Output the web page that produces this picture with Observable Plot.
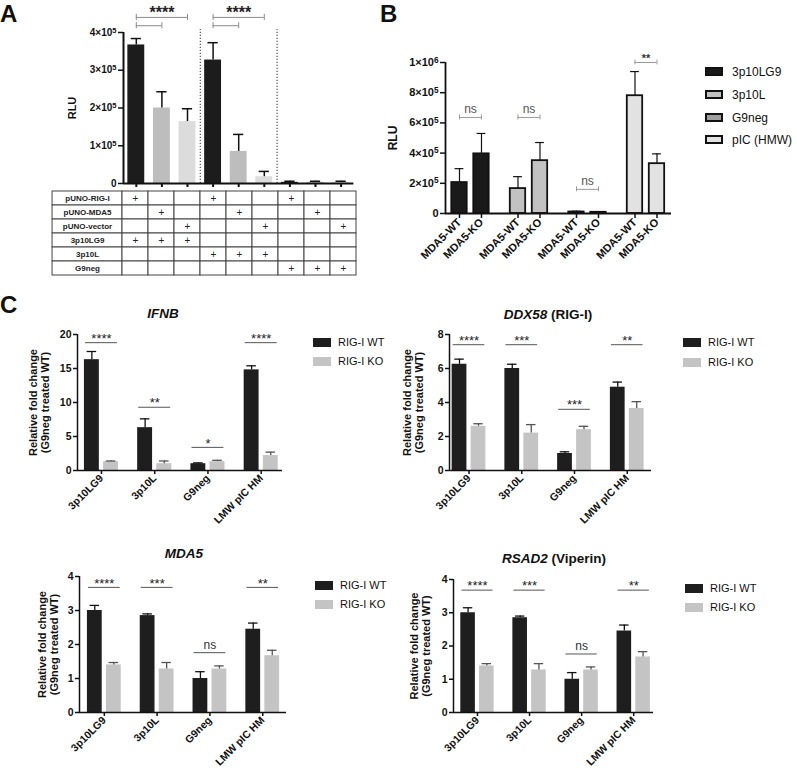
<!DOCTYPE html>
<html>
<head>
<meta charset="utf-8">
<script src="https://cdn.jsdelivr.net/npm/d3@7"></script>
<script src="https://cdn.jsdelivr.net/npm/@observablehq/plot@0.6"></script>
<style>
  html, body { margin: 0; padding: 0; background: #fff; }
  #fig { position: relative; width: 797px; height: 772px; overflow: hidden; background: #fff; }
</style>
</head>
<body>
<div id="fig"></div>
<script>
// ================= DATA =================
// Panel A
const aPlasmid = ["pUNO-RIG-I","pUNO-MDA5","pUNO-vector","pUNO-RIG-I","pUNO-MDA5","pUNO-vector","pUNO-RIG-I","pUNO-MDA5","pUNO-vector"];
const aLigand  = ["3p10LG9","3p10LG9","3p10LG9","3p10L","3p10L","3p10L","G9neg","G9neg","G9neg"];
const aValue   = [367000, 200000, 164000, 327000, 85000, 18000, 3000, 3000, 3000];
const aErrTop  = [384000, 243000, 198000, 373000, 130000, 32000, 6000, 6000, 6000];
const aYTicks  = [0, 100000, 200000, 300000, 400000];
const aTableRows = ["pUNO-RIG-I","pUNO-MDA5","pUNO-vector","3p10LG9","3p10L","G9neg"];
const aSigFrom  = [0, 0, 3, 3];
const aSigTo    = [2, 1, 5, 4];
const aSigY     = [440000, 418000, 440000, 418000];
const aSigLabel = ["****", "", "****", ""];

// Panel B
const bTreatments = ["3p10LG9","3p10L","G9neg","pIC (HMW)"];
const bCells = ["MDA5-WT","MDA5-KO"];
const bWT    = [205000, 165000, 10000, 780000];
const bWTErr = [297000, 244000, 15000, 940000];
const bKO    = [395000, 350000, 8000, 330000];
const bKOErr = [530000, 470000, 12000, 395000];
const bSig   = ["ns","ns","ns","**"];
const bSigY  = [636000, 636000, 160000, 1000000];
const bYTicks = [0, 200000, 400000, 600000, 800000, 1000000];

// Panel C
const cGroups = ["3p10LG9","3p10L","G9neg","LMW pIC HM"];
const cSeries = ["RIG-I WT","RIG-I KO"];

const ifnbWT = [16.3, 6.3, 1.0, 14.8];
const ifnbWTErr = [17.5, 7.6, 1.12, 15.4];
const ifnbKO = [1.3, 1.0, 1.3, 2.2];
const ifnbKOErr = [1.4, 1.4, 1.5, 2.7];
const ifnbSig = ["****","**","*","****"];
const ifnbSigY = [18.8, 9.3, 3.4, 18.8];
const ifnbTicks = [0, 5, 10, 15, 20];

const ddxWT = [6.25, 6.0, 1.0, 4.9];
const ddxWTErr = [6.55, 6.25, 1.1, 5.2];
const ddxKO = [2.6, 2.2, 2.4, 3.65];
const ddxKOErr = [2.75, 2.7, 2.6, 4.05];
const ddxSig = ["****","***","***","**"];
const ddxSigY = [7.4, 7.4, 3.6, 7.4];
const ddxTicks = [0, 2, 4, 6, 8];

const mda5WT = [3.0, 2.85, 1.0, 2.45];
const mda5WTErr = [3.15, 2.9, 1.2, 2.63];
const mda5KO = [1.4, 1.28, 1.28, 1.67];
const mda5KOErr = [1.47, 1.47, 1.37, 1.83];
const mda5Sig = ["****","***","ns","**"];
const mda5SigY = [3.68, 3.68, 1.76, 3.68];
const mda5Ticks = [0, 1, 2, 3, 4];

const rsadWT = [3.0, 2.85, 1.0, 2.45];
const rsadWTErr = [3.15, 2.9, 1.2, 2.63];
const rsadKO = [1.4, 1.28, 1.28, 1.67];
const rsadKOErr = [1.47, 1.47, 1.37, 1.83];
const rsadSig = ["****","***","ns","**"];
const rsadSigY = [3.68, 3.68, 1.76, 3.68];
const rsadTicks = [0, 1, 2, 3, 4];

// ================= HELPERS =================
const FONT = '"Liberation Sans", Arial, Helvetica, sans-serif';
const fig = document.getElementById("fig");
function sci(v) {
  if (v === 0) return "0";
  const e = Math.floor(Math.log10(v) + 1e-9);
  const m = Math.round(v / Math.pow(10, e));
  return m + "×10^" + e;
}
// turn "4×10^5" into real superscript tspans
function fixSuperscripts(svg) {
  svg.querySelectorAll("text").forEach(t => {
    const m = t.textContent.match(/^(.*×10)\^(\d+)$/);
    if (!m) return;
    t.textContent = m[1];
    const ts = document.createElementNS("http://www.w3.org/2000/svg", "tspan");
    ts.setAttribute("dy", "-0.42em");
    ts.setAttribute("font-size", "0.75em");
    ts.textContent = m[2];
    t.appendChild(ts);
  });
}
function mount(svg, left, top) {
  svg.style.position = "absolute";
  svg.style.left = left + "px";
  svg.style.top = top + "px";
  fixSuperscripts(svg);
  fig.appendChild(svg);
}
const baseStyle = {fontFamily: FONT, fontSize: "10px", background: "transparent", overflow: "visible", maxWidth: "none", color: "#111"};
function label(html, x, baseline, size, opts = {}) {
  const d = document.createElement("div");
  d.innerHTML = html;
  d.style.cssText = `position:absolute;left:${x}px;top:${baseline - 0.8465 * size}px;font-family:${FONT};font-size:${size}px;font-weight:${opts.weight || "normal"};font-style:${opts.style || "normal"};line-height:1;white-space:nowrap;color:${opts.color || "#111"};` + (opts.center ? "transform:translateX(-50%);" : "");
  fig.appendChild(d);
}
function swatch(x, y, w, h, fill, border) {
  const d = document.createElement("div");
  d.style.cssText = `position:absolute;left:${x}px;top:${y}px;width:${w}px;height:${h}px;background:${fill};box-sizing:border-box;` + (border ? `border:2px solid ${border};` : "");
  fig.appendChild(d);
}
function bracketEnds(list) {
  return list.flatMap(b => [{x: b.x1, y: b.y}, {x: b.x2, y: b.y}]);
}

// ================= PANEL A =================
const aColors = {"pUNO-RIG-I": "#1c1c1c", "pUNO-MDA5": "#bdbdbd", "pUNO-vector": "#dcdcdc"};
const aBars = aValue.map((v, i) => ({pos: i, value: v, err: aErrTop[i], plasmid: aPlasmid[i], ligand: aLigand[i]}));
const aSeparators = aBars.filter((d, i) => i > 0 && aLigand[i] !== aLigand[i - 1]).map(d => d.pos - 0.5);
const aBrackets = aSigFrom.map((f, i) => ({x1: f, x2: aSigTo[i], y: aSigY[i], label: aSigLabel[i]}));
const A_HW = 0.33;

const aPlot = Plot.plot({
  width: 380, height: 188,
  marginLeft: 123, marginRight: 26.6, marginTop: 32, marginBottom: 5,
  x: {domain: [-0.5, 8.5], axis: null},
  y: {domain: [0, 400000], axis: null},
  color: {domain: Object.keys(aColors), range: Object.values(aColors)},
  style: baseStyle,
  marks: [
    Plot.ruleX(aSeparators, {x: d => d, y1: 0, y2: 408000, stroke: "#555", strokeWidth: 1.2, strokeDasharray: "1.2,1.8"}),
    Plot.rectY(aBars, {x1: d => d.pos - A_HW, x2: d => d.pos + A_HW, y1: 0, y2: "value", fill: "plasmid"}),
    Plot.ruleX(aBars, {x: "pos", y1: "value", y2: "err", stroke: "#111", strokeWidth: 1.5}),
    Plot.ruleY(aBars, {y: "err", x1: d => d.pos - 0.2, x2: d => d.pos + 0.2, stroke: "#111", strokeWidth: 1.5}),
    Plot.ruleY([0], {stroke: "#111", strokeWidth: 2}),
    Plot.ruleX([-0.5], {y1: 0, y2: 400000, stroke: "#111", strokeWidth: 2}),
    Plot.axisY({ticks: aYTicks, tickFormat: sci, tickSize: 5, tickPadding: 2, fontWeight: "bold", fontSize: 10, strokeWidth: 1.5, label: null}),
    Plot.axisX({ticks: aBars.map(d => d.pos), tickFormat: () => "", tickSize: 4, strokeWidth: 2, label: null}),
    Plot.ruleY(aBrackets, {y: "y", x1: "x1", x2: "x2", stroke: "#8a8a8a", strokeWidth: 1}),
    Plot.ruleX(bracketEnds(aBrackets), {x: "x", y1: d => d.y - 8000, y2: d => d.y + 8000, stroke: "#8a8a8a", strokeWidth: 1}),
    Plot.text(aBrackets.filter(b => b.label), {x: d => (d.x1 + d.x2) / 2, y: "y", text: "label", dy: -5, fontWeight: "bold", fontSize: 16, fill: "#222"}),
    Plot.text(["RLU"], {frameAnchor: "left", textAnchor: "middle", dx: -51, rotate: -90, fontWeight: "bold", fontSize: 11})
  ]
});
mount(aPlot, 0, 0);

// Panel A table
const LABEL_COL_UNITS = 2.69;
const tableCells = aTableRows.flatMap(row => [
  {row, x1: -0.5 - LABEL_COL_UNITS, x2: -0.5},
  ...aBars.map(b => ({row, x1: b.pos - 0.5, x2: b.pos + 0.5}))
]);
const plusCells = aTableRows.flatMap(row => aBars.filter(b => b.plasmid === row || b.ligand === row).map(b => ({row, col: b.pos})));
const aTable = Plot.plot({
  width: 380, height: 95,
  marginLeft: 122, marginRight: 24, marginTop: 4, marginBottom: 3,
  x: {domain: [-0.5, 8.5], axis: null},
  y: {type: "band", domain: aTableRows, padding: 0, axis: null},
  style: baseStyle,
  marks: [
    Plot.barX(tableCells, {x1: "x1", x2: "x2", y: "row", fill: "white", stroke: "#444", strokeWidth: 1}),
    Plot.text(plusCells, {x: "col", y: "row", text: () => "+", fontSize: 10, fill: "#222"}),
    Plot.text(aTableRows, {x: () => -0.5 - LABEL_COL_UNITS / 2, y: d => d, text: d => d, fontSize: 8, fontWeight: "bold", fill: "#222"})
  ]
});
mount(aTable, 0, 185);

// ================= PANEL B =================
const bColors = {"3p10LG9": "#1a1a1a", "3p10L": "#c2c2c2", "G9neg": "#9e9e9e", "pIC (HMW)": "#e2e2e2"};
const B_GROUP_STEP = 2.66;
const bBars = bTreatments.flatMap((t, g) => [
  {pos: g * B_GROUP_STEP, treat: t, cell: bCells[0], value: bWT[g], err: bWTErr[g]},
  {pos: g * B_GROUP_STEP + 1, treat: t, cell: bCells[1], value: bKO[g], err: bKOErr[g]}
]);
const bBrackets = bTreatments.map((t, g) => ({x1: g * B_GROUP_STEP, x2: g * B_GROUP_STEP + 1, y: bSigY[g], label: bSig[g]}));
const B_HW = 0.35;
const bPlot = Plot.plot({
  width: 300, height: 235,
  marginLeft: 65, marginRight: 9, marginTop: 22, marginBottom: 62,
  x: {domain: [-0.636, 9.64], axis: null},
  y: {domain: [0, 1000000], axis: null},
  color: {domain: Object.keys(bColors), range: Object.values(bColors)},
  style: baseStyle,
  marks: [
    Plot.ruleX(bBars, {x: "pos", y1: "value", y2: "err", stroke: "#111", strokeWidth: 1.2}),
    Plot.ruleY(bBars, {y: "err", x1: d => d.pos - 0.2, x2: d => d.pos + 0.2, stroke: "#111", strokeWidth: 1.2}),
    Plot.rectY(bBars, {x1: d => d.pos - B_HW, x2: d => d.pos + B_HW, y1: 0, y2: "value", fill: "treat", stroke: "#111", strokeWidth: 1.8}),
    Plot.ruleY([0], {stroke: "#111", strokeWidth: 1.8}),
    Plot.ruleX([-0.636], {y1: 0, y2: 1000000, stroke: "#111", strokeWidth: 1.8}),
    Plot.axisY({ticks: bYTicks, tickFormat: sci, tickSize: 5, tickPadding: 2, fontWeight: "bold", fontSize: 11, strokeWidth: 1.5, label: null}),
    Plot.axisX({ticks: bBars.map(d => d.pos), tickFormat: p => bBars.find(d => d.pos === p).cell, tickRotate: -45, tickSize: 5, tickPadding: 2, fontWeight: "bold", fontSize: 11, strokeWidth: 1.5, label: null}),
    Plot.ruleY(bBrackets, {y: "y", x1: "x1", x2: "x2", stroke: "#999", strokeWidth: 1}),
    Plot.ruleX(bracketEnds(bBrackets), {x: "x", y1: d => d.y - 16000, y2: d => d.y + 16000, stroke: "#999", strokeWidth: 1}),
    Plot.text(bBrackets.filter(b => b.label === "ns"), {x: d => (d.x1 + d.x2) / 2, y: "y", text: "label", dy: -8, fontSize: 12, fill: "#555"}),
    Plot.text(bBrackets.filter(b => b.label !== "ns"), {x: d => (d.x1 + d.x2) / 2, y: "y", text: "label", dy: -4, fontSize: 11, fontWeight: "bold", fill: "#333"}),
    Plot.text(["RLU"], {frameAnchor: "left", textAnchor: "middle", dx: -52, rotate: -90, fontWeight: "bold", fontSize: 12})
  ]
});
mount(bPlot, 380, 40);

// B legend
bTreatments.forEach((t, i) => {
  const cy = [71.5, 94.5, 117.5, 139.5][i];
  swatch(705, cy - 4.5, 18, 9, bColors[t], "#111");
  label(t, 732, cy + 4.3, 12);
});

// ================= PANEL C =================
const cColors = {"RIG-I WT": "#1e1e1e", "RIG-I KO": "#c4c4c4"};
const C_OFF = 0.18, C_HW = 0.14;
function cPanel(cfg) {
  const bars = cGroups.flatMap((g, i) => [
    {pos: i - C_OFF, series: cSeries[0], value: cfg.wt[i], err: cfg.wtErr[i]},
    {pos: i + C_OFF, series: cSeries[1], value: cfg.ko[i], err: cfg.koErr[i]}
  ]);
  const sig = cGroups.map((g, i) => ({pos: i, y: cfg.sigY[i], label: cfg.sig[i]}));
  const yMax = cfg.ticks[cfg.ticks.length - 1];
  const svgTop = cfg.yTop - 12;
  const width = 397;
  const p = Plot.plot({
    width, height: cfg.yZero + 62 - svgTop,
    marginLeft: cfg.axisX - cfg.left, marginRight: width - (cfg.axisRight - cfg.left),
    marginTop: cfg.yTop - svgTop, marginBottom: 62,
    x: {domain: cfg.domain, axis: null},
    y: {domain: [0, yMax], axis: null},
    color: {domain: cSeries, range: cSeries.map(s => cColors[s])},
    style: baseStyle,
    marks: [
      Plot.rectY(bars, {x1: d => d.pos - C_HW, x2: d => d.pos + C_HW, y1: 0, y2: "value", fill: "series"}),
      Plot.ruleX(bars.filter(d => d.series === cSeries[0]), {x: "pos", y1: "value", y2: "err", stroke: "#111", strokeWidth: 1.3}),
      Plot.ruleY(bars.filter(d => d.series === cSeries[0]), {y: "err", x1: d => d.pos - 0.09, x2: d => d.pos + 0.09, stroke: "#111", strokeWidth: 1.3}),
      Plot.ruleX(bars.filter(d => d.series === cSeries[1]), {x: "pos", y1: "value", y2: "err", stroke: "#555", strokeWidth: 1.3}),
      Plot.ruleY(bars.filter(d => d.series === cSeries[1]), {y: "err", x1: d => d.pos - 0.09, x2: d => d.pos + 0.09, stroke: "#555", strokeWidth: 1.3}),
      Plot.ruleY([0], {stroke: "#111", strokeWidth: 1.5}),
      Plot.ruleX([cfg.domain[0]], {y1: 0, y2: yMax, stroke: "#111", strokeWidth: 1.5}),
      Plot.axisY({ticks: cfg.ticks, tickFormat: d => String(d), tickSize: 4, tickPadding: 2, fontWeight: "bold", fontSize: 10.5, strokeWidth: 1.5, label: null}),
      Plot.axisX({ticks: cGroups.map((g, i) => i), tickFormat: i => cGroups[i], tickRotate: -45, tickSize: 4, tickPadding: 2, fontWeight: "bold", fontSize: 10.5, strokeWidth: 1.5, label: null}),
      Plot.ruleY(sig, {y: "y", x1: d => d.pos - 0.3, x2: d => d.pos + 0.3, stroke: "#555", strokeWidth: 1}),
      Plot.text(sig.filter(d => d.label !== "ns"), {x: "pos", y: "y", text: "label", dy: -4, fontSize: 13, fill: "#222"}),
      Plot.text(sig.filter(d => d.label === "ns"), {x: "pos", y: "y", text: "label", dy: -8, fontSize: 12, fill: "#333"}),
      Plot.text(["Relative fold change\n(G9neg treated WT)"], {frameAnchor: "left", textAnchor: "middle", dx: cfg.ylabelDx, rotate: -90, fontWeight: "bold", fontSize: 11, lineHeight: 1.1})
    ]
  });
  mount(p, cfg.left, svgTop);
  // title
  label(cfg.title, cfg.titleX, cfg.titleBaseline, 13.5, {weight: "bold", center: true});
  // legend
  cSeries.forEach((s, i) => {
    const cy = cfg.legendY[i];
    swatch(cfg.legendX, cy - 4.5, 18, 9, cColors[s]);
    label(s, cfg.legendX + 25, cy + 4, 11);
  });
}

cPanel({left: 0, axisX: 77, axisRight: 282, yTop: 334, yZero: 470, ticks: ifnbTicks, domain: [-0.45, 3.4], ylabelDx: -38,
  wt: ifnbWT, wtErr: ifnbWTErr, ko: ifnbKO, koErr: ifnbKOErr, sig: ifnbSig, sigY: ifnbSigY,
  title: "<i>IFNB</i>", titleX: 163, titleBaseline: 318, legendX: 313, legendY: [342.5, 361.5]});
cPanel({left: 400, axisX: 449, axisRight: 651, yTop: 334, yZero: 470, ticks: ddxTicks, domain: [-0.37, 3.46], ylabelDx: -36.5,
  wt: ddxWT, wtErr: ddxWTErr, ko: ddxKO, koErr: ddxKOErr, sig: ddxSig, sigY: ddxSigY,
  title: "<i>DDX58</i> (RIG-I)", titleX: 548, titleBaseline: 319, legendX: 683, legendY: [342.5, 362.5]});
cPanel({left: 0, axisX: 79, axisRight: 286, yTop: 576, yZero: 712, ticks: mda5Ticks, domain: [-0.47, 3.45], ylabelDx: -31.5,
  wt: mda5WT, wtErr: mda5WTErr, ko: mda5KO, koErr: mda5KOErr, sig: mda5Sig, sigY: mda5SigY,
  title: "<i>MDA5</i>", titleX: 184, titleBaseline: 558, legendX: 315, legendY: [585.5, 604.5]});
cPanel({left: 400, axisX: 453, axisRight: 653, yTop: 579, yZero: 712, ticks: rsadTicks, domain: [-0.46, 3.38], ylabelDx: -33.5,
  wt: rsadWT, wtErr: rsadWTErr, ko: rsadKO, koErr: rsadKOErr, sig: rsadSig, sigY: rsadSigY,
  title: "<i>RSAD2</i> (Viperin)", titleX: 554, titleBaseline: 563, legendX: 685, legendY: [588.5, 607.5]});

// Panel letters
label("A", 0, 22, 24, {weight: "bold"});
label("B", 380, 22, 24, {weight: "bold"});
label("C", 0, 313, 24, {weight: "bold"});
</script>
</body>
</html>
